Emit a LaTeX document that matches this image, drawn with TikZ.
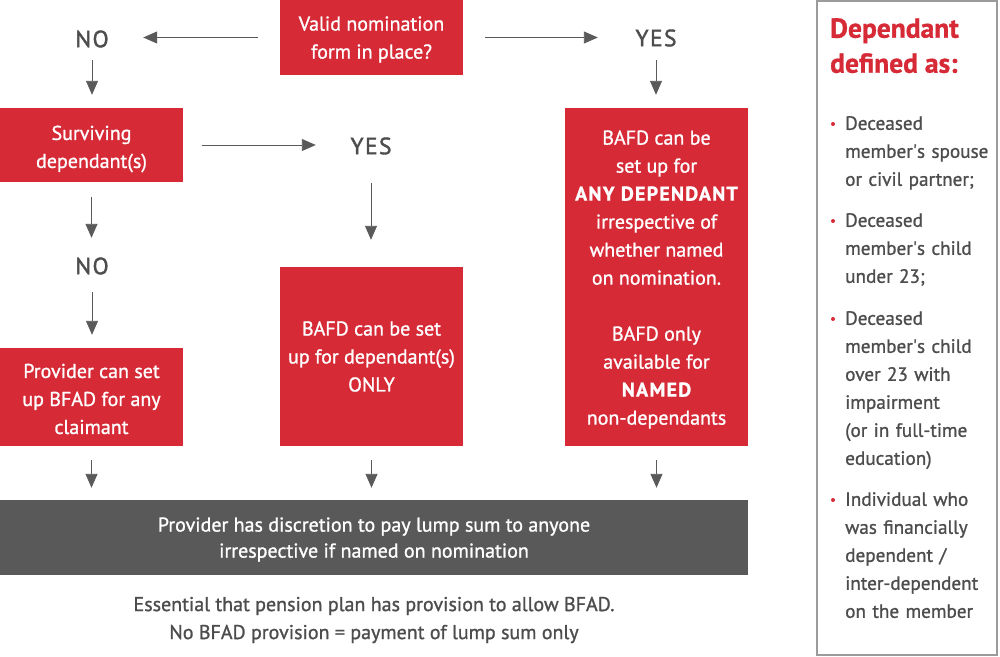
\documentclass[tikz,border=0pt]{standalone}
\usepackage{fontspec}
\setmainfont{PT Sans}[FakeBold=1.1]
\usetikzlibrary{arrows.meta}
\definecolor{myred}{HTML}{D62A36}
\definecolor{dgray}{HTML}{595959}
\definecolor{lgray}{HTML}{4D4D4D}
\definecolor{agray}{HTML}{5A5A5A}
\definecolor{fgray}{HTML}{9B9B9B}
\begin{document}
\begin{tikzpicture}[x=1pt,y=-1pt,
  redbox/.style={fill=myred, minimum width=183pt, inner sep=0pt},
  boxtext/.style={text=white, inner sep=0pt, align=center, font=\fontsize{20}{28}\selectfont},
  lbl/.style={text=lgray, font=\fontsize{23.5}{24}\selectfont\addfontfeature{LetterSpace=6,FakeBold=1.6}, minimum width=60pt, minimum height=24pt, inner sep=0pt},
  arr/.style={draw=agray, line width=0.9pt, -{Triangle[width=12pt,length=14pt]}},
  bul/.style={anchor=north west, inner sep=0pt, text width=152pt, align=left, text=lgray, font=\fontsize{19.2}{28}\selectfont}
]
\useasboundingbox (0,0) rectangle (1000,656);

\node[redbox, minimum height=75pt] (valid) at (371.5,37.5) {};
\node[boxtext] (validt) at ([yshift=-2pt]valid.center) {Valid nomination\\form in place?};
\node[lbl] (no1) at (92,39) {NO};
\node[lbl] (yes1) at (656,38) {YES};
\node[redbox, minimum height=74pt] (surv) at (91.5,145) {};
\node[boxtext] (survt) at ([yshift=-4pt]surv.center) {Surviving\\dependant(s)};
\node[lbl] (yes2) at (371,146) {YES};
\node[lbl] (no2) at (92,266) {NO};
\node[redbox, minimum height=98pt] (prov) at (91.5,397) {};
\node[boxtext] (provt) at ([yshift=-2pt]prov.center) {Provider can set\\up BFAD for any\\claimant};
\node[redbox, minimum height=179pt] (mid) at (371.5,356.5) {};
\node[boxtext] (midt) at (mid.center) {BAFD can be set\\up for dependant(s)\\ONLY};
\node[redbox, minimum height=338pt] (right) at (656.5,277) {};
\node[boxtext] (rightt) at ([yshift=-2.5pt]right.center) {BAFD can be\\set up for\\{\bfseries\addfontfeature{LetterSpace=6}ANY DEPENDANT}\\irrespective of\\whether named\\on nomination.\\[28pt]BAFD only\\available for\\{\bfseries\addfontfeature{LetterSpace=6}NAMED}\\non-dependants};

\node[fill=dgray, minimum width=748pt, minimum height=75pt, inner sep=0pt] (gray) at (374,537.5) {};
\node[text=white, inner sep=0pt, align=center, font=\fontsize{20}{26}\selectfont] (grayt) at ([yshift=-2pt]gray.center) {Provider has discretion to pay lump sum to anyone\\irrespective if named on nomination};
\node[text=lgray, inner sep=0pt, align=center, font=\fontsize{20}{28}\selectfont] (note) at (374,620) {Essential that pension plan has provision to allow BFAD.\\No BFAD provision = payment of lump sum only};

\draw[arr, shorten <=22pt, shorten >=21pt] (valid.west) -- (valid.west -| no1.east);
\draw[arr, shorten <=22pt, shorten >=28pt] (valid.east) -- (valid.east -| yes1.west);
\draw[arr, shorten <=9pt, shorten >=13pt] (no1.south) -- (no1.south |- surv.north);
\draw[arr, shorten <=19pt, shorten >=25pt] (surv.east) -- (surv.east -| yes2.west);
\draw[arr, shorten <=25pt, shorten >=27pt] (yes2.south) -- (yes2.south |- mid.north);
\draw[arr, shorten <=15pt, shorten >=16pt] (surv.south) -- (surv.south |- no2.north);
\draw[arr, shorten <=14pt, shorten >=13pt] (no2.south) -- (no2.south |- prov.north);
\draw[arr, shorten <=10pt, shorten >=13pt] (yes1.south) -- (yes1.south |- right.north);
\foreach \n in {prov,mid,right} \draw[arr, shorten <=14pt, shorten >=12pt] (\n.south) -- (\n.south |- gray.north);

\node[draw=fgray, line width=1.5pt, minimum width=180pt, minimum height=654pt, inner sep=0pt] (panel) at (907,328) {};
\node[anchor=north west, inner sep=0pt, text=myred, align=left, font=\bfseries\fontsize{27.5}{35}\selectfont] (title) at (830,18) {Dependant\\defined as:};
\node[bul] (b1) at (845,110) {\strut Deceased\\member\textquotesingle s spouse\\or civil partner;};
\node[bul] (b2) at (845,207) {\strut Deceased\\member\textquotesingle s child\\under 23;};
\node[bul] (b3) at (845,305) {\strut Deceased\\member\textquotesingle s child\\over 23 with\\impairment\\(or in full-time\\education)};
\node[bul] (b4) at (845,486) {\strut Individual who\\was financially\\dependent /\\inter-dependent\\on the member};
\foreach \yy in {124,221,319,500} \fill[myred] (833,\yy) circle (2);
\end{tikzpicture}
\end{document}
